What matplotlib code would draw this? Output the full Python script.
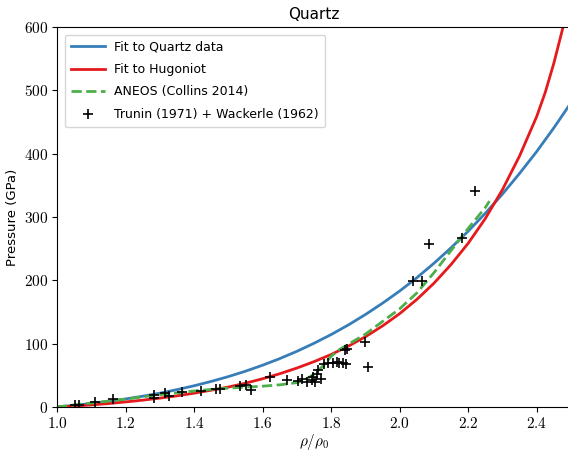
import matplotlib
matplotlib.use("Agg")
import matplotlib.pyplot as plt
from matplotlib.ticker import FormatStrFormatter

plt.rcParams['mathtext.fontset'] = 'cm'
plt.rcParams['font.family'] = 'DejaVu Sans'

# compression ratio grid for the fitted curves
eta = [1.00, 1.05, 1.10, 1.15, 1.20, 1.25, 1.30, 1.35, 1.40, 1.45, 1.50, 1.55,
       1.60, 1.65, 1.70, 1.75, 1.80, 1.85, 1.90, 1.95, 2.00, 2.05, 2.10, 2.15,
       2.20, 2.25, 2.30, 2.35, 2.40, 2.45, 2.50]

# fit to quartz data (GPa)
p_quartz = [0, 2.6, 5.5, 8.9, 12.7, 17.0, 21.8, 27.4, 33.5, 40.4, 48.0, 56.5,
            66.0, 76.4, 87.9, 100.6, 114.4, 129.5, 146.0, 163.9, 183.1, 204.1,
            226.9, 251.4, 277.6, 305.9, 336.2, 368.9, 403.4, 440.8, 480.4]

# fit to Hugoniot (GPa), denser near the steep end
eta_hug = [1.00, 1.05, 1.10, 1.15, 1.20, 1.25, 1.30, 1.35, 1.40, 1.45, 1.50,
           1.55, 1.60, 1.65, 1.70, 1.75, 1.80, 1.85, 1.90, 1.95, 2.00, 2.05,
           2.10, 2.15, 2.20, 2.25, 2.30, 2.35, 2.40, 2.425, 2.45, 2.475, 2.50]
p_hug = [0, 1.5, 3.3, 5.4, 8.0, 10.8, 14.0, 17.6, 21.8, 26.5, 31.5,
         37.6, 44.6, 52.5, 61.5, 71.6, 82.9, 96.0, 110.9, 128.0, 147.4, 169.8,
         195.4, 225.0, 258.5, 297.6, 343.2, 396.5, 458.8, 497.0, 543.0, 596.0, 660.0]

# ANEOS curve
eta_aneos = [1.00, 1.05, 1.10, 1.15, 1.20, 1.25, 1.30, 1.35, 1.40, 1.45, 1.50,
             1.55, 1.60, 1.65, 1.70, 1.725, 1.75, 1.775, 1.80, 1.825, 1.85,
             1.90, 1.95, 2.00, 2.05, 2.10, 2.15, 2.20, 2.25, 2.262]
p_aneos = [0, 3.2, 6.3, 9.3, 12.4, 16, 19.4, 22.3, 25.3, 27.8, 29.8,
           31.3, 32.9, 35, 38.5, 43, 52, 64, 80, 91, 99,
           115, 135, 155, 180, 212, 247, 282, 315, 325]

# Trunin (1971) + Wackerle (1962) shock data
rho_data = [1.053, 1.065, 1.111, 1.162, 1.284, 1.284, 1.314, 1.328, 1.366,
            1.421, 1.465, 1.477, 1.535, 1.553, 1.567, 1.621, 1.672, 1.704,
            1.714, 1.731, 1.743, 1.753, 1.748, 1.758, 1.763, 1.769, 1.779,
            1.792, 1.806, 1.816, 1.824, 1.835, 1.842, 1.840, 1.845, 1.899,
            1.908, 2.039, 2.066, 2.087, 2.183, 2.220]
p_data = [3, 3, 8, 13, 19, 14, 22, 17, 24,
          26, 28, 28, 33, 34, 27, 47, 42.5, 41,
          44, 39, 42.5, 39, 48, 52, 59, 44, 68,
          70, 69, 71, 69, 70, 68, 90, 91, 103,
          63, 199.5, 199.5, 257, 267, 341]

fig = plt.figure(figsize=(5.68, 4.54), dpi=100)
# axes runs slightly past the right edge of the figure
ax = fig.add_axes([57 / 568, 47 / 454, 514 / 568, 380 / 454])

ax.plot(eta, p_quartz, color='#377eb8', lw=2, label='Fit to Quartz data')
ax.plot(eta_hug, p_hug, color='#e41a1c', lw=2, label='Fit to Hugoniot')
ax.plot(eta_aneos, p_aneos, color='#4daf4a', lw=2, ls='--', label='ANEOS (Collins 2014)')
ax.plot(rho_data, p_data, '+', color='k', ms=7.5, mew=1.2,
        label='Trunin (1971) + Wackerle (1962)')

ax.set_xlim(1.0, 2.5)
ax.set_ylim(0, 600)
ax.set_xticks([1.0, 1.2, 1.4, 1.6, 1.8, 2.0, 2.2, 2.4])
ax.set_yticks([0, 100, 200, 300, 400, 500, 600])
ax.xaxis.set_major_formatter(FormatStrFormatter('$%.1f$'))
ax.yaxis.set_major_formatter(FormatStrFormatter('$%d$'))
ax.tick_params(labelsize=11, direction='out', top=False, right=False, pad=3)

ax.set_xlabel(r'$\rho/\rho_0$', fontsize=11, labelpad=1)
ax.set_ylabel('Pressure (GPa)', fontsize=9.5, labelpad=3)
ax.set_title('Quartz', fontsize=11)
ax.legend(loc='upper left', fontsize=9, handlelength=2.7, labelspacing=0.75,
          borderaxespad=0.6, borderpad=0.5)

fig.savefig('out.png', dpi=100)
